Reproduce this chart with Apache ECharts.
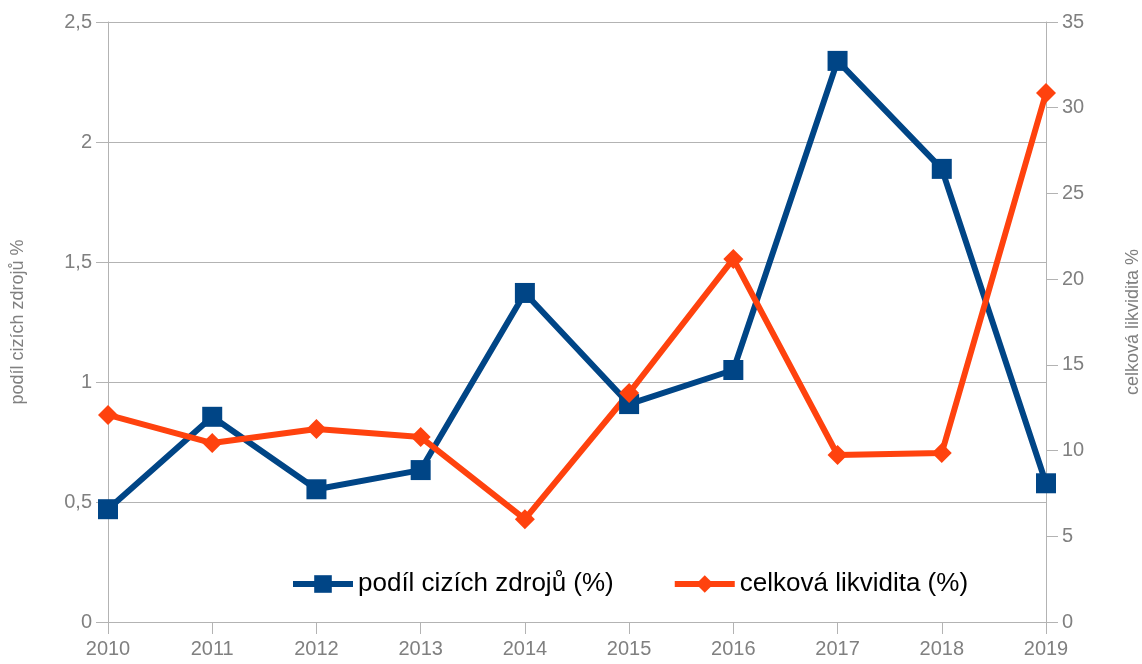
<!DOCTYPE html>
<html><head><meta charset="utf-8">
<script src="https://cdn.jsdelivr.net/npm/echarts@6/dist/echarts.min.js"></script>
<style>html,body{margin:0;padding:0;background:#fff}#c{width:1142px;height:664px}</style>
</head><body><div id="c"></div>
<script>
const categories = ['2010','2011','2012','2013','2014','2015','2016','2017','2018','2019'];
const podilCizichZdroju = [0.47, 0.855, 0.553, 0.633, 1.371, 0.908, 1.05, 2.338, 1.888, 0.578];
const celkovaLikvidita = [12.08, 10.44, 11.26, 10.79, 6.0, 13.36, 21.18, 9.74, 9.86, 30.86];
const seriesNames = ['podíl cizích zdrojů (%)', 'celková likvidita (%)'];
const axisNames = ['podíl cizích zdrojů %', 'celková likvidita %'];

const gray = '#b3b3b3';
const labelColor = '#808080';
const font = 'Liberation Sans';
const chart = echarts.init(document.getElementById('c'));
chart.setOption({
  animation: false,
  textStyle: {fontFamily: font},
  grid: {left: 108, right: 96, top: 22, bottom: 42, containLabel: false, outerBoundsMode: 'none'},
  legend: {
    top: 566, left: 285,
    itemWidth: 60, itemHeight: 22, itemGap: 58,
    lineStyle: {width: 6},
    textStyle: {fontSize: 26, color: '#000', fontFamily: font},
    data: seriesNames
  },
  xAxis: {
    type: 'category', data: categories, boundaryGap: false,
    axisLine: {lineStyle: {color: gray}},
    axisTick: {show: true, length: 12, lineStyle: {color: gray}},
    axisLabel: {color: labelColor, fontSize: 20, margin: 17, fontFamily: font}
  },
  yAxis: [{
    type: 'value', min: 0, max: 2.5, interval: 0.5,
    name: axisNames[0], nameLocation: 'middle', nameGap: 81, nameRotate: 90,
    nameTextStyle: {color: labelColor, fontSize: 18, fontFamily: font},
    axisLine: {show: true, lineStyle: {color: gray}},
    axisTick: {show: true, length: 12, lineStyle: {color: gray}},
    splitLine: {show: true, lineStyle: {color: gray}},
    axisLabel: {color: labelColor, fontSize: 20, margin: 16, fontFamily: font,
      formatter: v => String(v).replace('.', ',')}
  }, {
    type: 'value', min: 0, max: 35, interval: 5, position: 'right',
    name: axisNames[1], nameLocation: 'middle', nameGap: 78, nameRotate: 90,
    nameTextStyle: {color: labelColor, fontSize: 18, fontFamily: font},
    axisLine: {show: true, lineStyle: {color: gray}},
    axisTick: {show: true, length: 12, lineStyle: {color: gray}},
    splitLine: {show: false},
    axisLabel: {color: labelColor, fontSize: 20, margin: 16, fontFamily: font}
  }],
  series: [{
    name: seriesNames[0], type: 'line', yAxisIndex: 0, data: podilCizichZdroju,
    symbol: 'rect', symbolSize: 20,
    lineStyle: {color: '#004586', width: 6},
    itemStyle: {color: '#004586'}
  }, {
    name: seriesNames[1], type: 'line', yAxisIndex: 1, data: celkovaLikvidita,
    symbol: 'diamond', symbolSize: 20,
    lineStyle: {color: '#ff420e', width: 6},
    itemStyle: {color: '#ff420e'}
  }]
});
</script></body></html>
